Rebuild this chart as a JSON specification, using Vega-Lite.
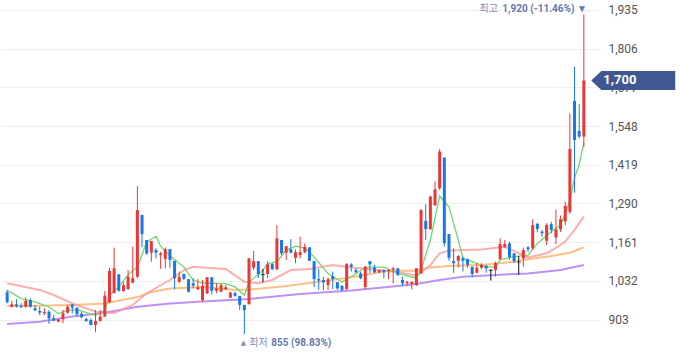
{
"$schema": "https://vega.github.io/schema/vega-lite/v6.json",
"width": 600, "height": 358,
"autosize": {"type": "none"},
"padding": {"left": 0, "top": 0, "right": 80, "bottom": 0},
"background": "white",
"config": {"view": {"stroke": null}, "font": "Noto Sans CJK KR"},
"datasets": {
"candles": [
{"i":1,"o":994,"h":1002,"l":957,"c":961},{"i":2,"o":946,"h":966,"l":943,"c":954},{"i":3,"o":954,"h":971,"l":943,"c":948},{"i":4,"o":949,"h":957,"l":943,"c":944},{"i":5,"o":946,"h":977,"l":943,"c":965},{"i":6,"o":968,"h":974,"l":943,"c":946},{"i":7,"o":941,"h":952,"l":933,"c":933},{"i":8,"o":932,"h":946,"l":918,"c":926},{"i":9,"o":924,"h":941,"l":918,"c":929},{"i":10,"o":929,"h":935,"l":888,"c":907},
{"i":11,"o":907,"h":918,"l":899,"c":899},{"i":12,"o":896,"h":904,"l":894,"c":904},{"i":13,"o":904,"h":935,"l":891,"c":924},{"i":14,"o":926,"h":952,"l":922,"c":946},{"i":15,"o":954,"h":954,"l":924,"c":943},{"i":16,"o":943,"h":943,"l":913,"c":921},{"i":17,"o":922,"h":929,"l":907,"c":911},{"i":18,"o":905,"h":909,"l":896,"c":898},{"i":19,"o":902,"h":907,"l":884,"c":885},{"i":20,"o":885,"h":935,"l":861,"c":898},
{"i":21,"o":899,"h":935,"l":896,"c":913},{"i":22,"o":913,"h":998,"l":913,"c":983},{"i":23,"o":961,"h":1076,"l":959,"c":1065},{"i":24,"o":991,"h":1143,"l":991,"c":1074},{"i":25,"o":1054,"h":1054,"l":996,"c":999},{"i":26,"o":998,"h":1029,"l":996,"c":1018},{"i":27,"o":1005,"h":1068,"l":1002,"c":1046},{"i":28,"o":1026,"h":1146,"l":1024,"c":1041},{"i":29,"o":1046,"h":1348,"l":1041,"c":1268},{"i":30,"o":1252,"h":1252,"l":1144,"c":1188},
{"i":31,"o":1168,"h":1168,"l":1118,"c":1124},{"i":32,"o":1126,"h":1165,"l":1096,"c":1165},{"i":33,"o":1135,"h":1141,"l":1107,"c":1126},{"i":34,"o":1118,"h":1129,"l":1072,"c":1124},{"i":35,"o":1105,"h":1143,"l":1074,"c":1138},{"i":36,"o":1138,"h":1138,"l":1076,"c":1102},{"i":37,"o":1099,"h":1099,"l":1004,"c":1041},{"i":38,"o":1029,"h":1063,"l":1024,"c":1046},{"i":39,"o":1055,"h":1057,"l":1035,"c":1039},{"i":40,"o":1038,"h":1038,"l":993,"c":996},
{"i":41,"o":1024,"h":1041,"l":1007,"c":1016},{"i":42,"o":1004,"h":1038,"l":1002,"c":1011},{"i":43,"o":968,"h":1035,"l":961,"c":1015},{"i":44,"o":991,"h":1044,"l":988,"c":1044},{"i":45,"o":1044,"h":1044,"l":987,"c":999},{"i":46,"o":999,"h":1024,"l":991,"c":1007},{"i":47,"o":996,"h":1024,"l":994,"c":1018},{"i":48,"o":1004,"h":1018,"l":1002,"c":1011},{"i":49,"o":976,"h":996,"l":974,"c":993},{"i":50,"o":991,"h":996,"l":979,"c":982},
{"i":51,"o":982,"h":982,"l":935,"c":952},{"i":52,"o":952,"h":952,"l":855,"c":935},{"i":53,"o":955,"h":1109,"l":952,"c":1107},{"i":54,"o":1076,"h":1132,"l":1068,"c":1098},{"i":55,"o":1098,"h":1098,"l":1041,"c":1055},{"i":56,"o":1053,"h":1072,"l":1027,"c":1053},{"i":57,"o":1055,"h":1098,"l":1041,"c":1087},{"i":58,"o":1088,"h":1091,"l":1068,"c":1071},{"i":59,"o":1071,"h":1218,"l":1068,"c":1174},{"i":60,"o":1168,"h":1168,"l":1118,"c":1124},
{"i":61,"o":1126,"h":1148,"l":1102,"c":1148},{"i":62,"o":1137,"h":1171,"l":1124,"c":1126},{"i":63,"o":1109,"h":1137,"l":1091,"c":1128},{"i":64,"o":1118,"h":1179,"l":1107,"c":1128},{"i":65,"o":1127,"h":1157,"l":1124,"c":1146},{"i":66,"o":1144,"h":1144,"l":1099,"c":1099},{"i":67,"o":1098,"h":1098,"l":1011,"c":1038},{"i":68,"o":1038,"h":1072,"l":1002,"c":1033},{"i":69,"o":1035,"h":1046,"l":1002,"c":1027},{"i":70,"o":1018,"h":1044,"l":1002,"c":1037},
{"i":71,"o":1048,"h":1063,"l":1005,"c":1038},{"i":72,"o":1028,"h":1028,"l":1002,"c":1007},{"i":73,"o":1015,"h":1018,"l":999,"c":1002},{"i":74,"o":1005,"h":1091,"l":1002,"c":1088},{"i":75,"o":1087,"h":1091,"l":1063,"c":1079},{"i":76,"o":1068,"h":1074,"l":1057,"c":1061},{"i":77,"o":1057,"h":1063,"l":1038,"c":1041},{"i":78,"o":1011,"h":1082,"l":1005,"c":1079},{"i":79,"o":1098,"h":1098,"l":1059,"c":1087},{"i":80,"o":1076,"h":1085,"l":1057,"c":1061},
{"i":81,"o":1061,"h":1068,"l":1057,"c":1068},{"i":82,"o":1068,"h":1070,"l":1041,"c":1061},{"i":83,"o":1065,"h":1071,"l":1038,"c":1068},{"i":84,"o":1069,"h":1079,"l":1024,"c":1074},{"i":85,"o":1074,"h":1074,"l":1048,"c":1052},{"i":86,"o":1035,"h":1046,"l":1015,"c":1024},{"i":87,"o":1024,"h":1032,"l":1015,"c":1029},{"i":88,"o":1022,"h":1029,"l":1004,"c":1029},{"i":89,"o":1018,"h":1074,"l":1015,"c":1074},{"i":90,"o":1057,"h":1272,"l":1055,"c":1268},
{"i":91,"o":1232,"h":1288,"l":1168,"c":1205},{"i":92,"o":1205,"h":1316,"l":1202,"c":1313},{"i":93,"o":1284,"h":1363,"l":1282,"c":1337},{"i":94,"o":1341,"h":1472,"l":1335,"c":1463},{"i":95,"o":1443,"h":1443,"l":1146,"c":1157},{"i":96,"o":1188,"h":1188,"l":1099,"c":1109},{"i":97,"o":1098,"h":1141,"l":1059,"c":1091},{"i":98,"o":1099,"h":1118,"l":1077,"c":1115},{"i":99,"o":1107,"h":1113,"l":1063,"c":1099},{"i":100,"o":1104,"h":1107,"l":1076,"c":1085},
{"i":101,"o":1079,"h":1079,"l":1044,"c":1055},{"i":102,"o":1059,"h":1091,"l":1057,"c":1076},{"i":103,"o":1076,"h":1091,"l":1071,"c":1085},{"i":104,"o":1083,"h":1083,"l":1059,"c":1074},{"i":105,"o":1067,"h":1071,"l":1033,"c":1067},{"i":106,"o":1068,"h":1096,"l":1046,"c":1091},{"i":107,"o":1105,"h":1174,"l":1102,"c":1155},{"i":108,"o":1146,"h":1168,"l":1141,"c":1155},{"i":109,"o":1157,"h":1163,"l":1102,"c":1111},{"i":110,"o":1124,"h":1124,"l":1091,"c":1098},
{"i":111,"o":1095,"h":1115,"l":1052,"c":1095},{"i":112,"o":1107,"h":1143,"l":1079,"c":1135},{"i":113,"o":1144,"h":1148,"l":1129,"c":1137},{"i":114,"o":1141,"h":1237,"l":1135,"c":1218},{"i":115,"o":1222,"h":1226,"l":1194,"c":1205},{"i":116,"o":1196,"h":1202,"l":1179,"c":1191},{"i":117,"o":1166,"h":1224,"l":1152,"c":1218},{"i":118,"o":1221,"h":1229,"l":1191,"c":1202},{"i":119,"o":1177,"h":1270,"l":1155,"c":1204},{"i":120,"o":1204,"h":1250,"l":1195,"c":1238},
{"i":121,"o":1230,"h":1296,"l":1218,"c":1282},{"i":122,"o":1262,"h":1590,"l":1255,"c":1472},{"i":123,"o":1632,"h":1746,"l":1326,"c":1502},{"i":124,"o":1532,"h":1621,"l":1507,"c":1513},{"i":125,"o":1513,"h":1920,"l":1479,"c":1700}
],
"ma5": [
{"i":1,"v":1001},{"i":4,"v":973},{"i":7,"v":962},{"i":10,"v":945},{"i":12,"v":923},{"i":14,"v":934},{"i":16,"v":936},{"i":18,"v":926},{"i":20,"v":917},{"i":22,"v":934},{"i":23,"v":984},{"i":25,"v":1012},{"i":27,"v":1053},{"i":29,"v":1078},{"i":31,"v":1162},{"i":33,"v":1181},{"i":34,"v":1147},{"i":36,"v":1117},{"i":39,"v":1078},{"i":41,"v":1034},{"i":43,"v":1025},{"i":48,"v":1023},{"i":50,"v":1012},{"i":52,"v":984},{"i":53,"v":1028},{"i":56,"v":1067},{"i":57,"v":1089},{"i":59,"v":1095},{"i":61,"v":1134},{"i":63,"v":1148},{"i":65,"v":1142},{"i":67,"v":1112},{"i":70,"v":1056},{"i":73,"v":1028},{"i":76,"v":1056},{"i":78,"v":1078},{"i":82,"v":1078},{"i":85,"v":1057},{"i":89,"v":1041},{"i":90,"v":1068},{"i":92,"v":1168},{"i":94,"v":1315},{"i":96,"v":1279},{"i":98,"v":1168},{"i":99,"v":1107},{"i":101,"v":1096},{"i":104,"v":1079},{"i":106,"v":1079},{"i":107,"v":1102},{"i":110,"v":1113},{"i":113,"v":1118},{"i":115,"v":1157},{"i":118,"v":1196},{"i":120,"v":1218},{"i":121,"v":1255},{"i":122,"v":1300},{"i":123,"v":1375},{"i":124,"v":1420},{"i":125,"v":1492}
],
"ma20": [
{"i":1,"v":1024},{"i":8,"v":1002},{"i":11,"v":985},{"i":15,"v":957},{"i":20,"v":929},{"i":22,"v":926},{"i":24,"v":925},{"i":28,"v":952},{"i":31,"v":991},{"i":36,"v":1035},{"i":39,"v":1068},{"i":41,"v":1079},{"i":43,"v":1077},{"i":48,"v":1072},{"i":52,"v":1029},{"i":55,"v":1024},{"i":58,"v":1035},{"i":62,"v":1068},{"i":66,"v":1072},{"i":71,"v":1085},{"i":75,"v":1077},{"i":81,"v":1068},{"i":85,"v":1062},{"i":89,"v":1049},{"i":92,"v":1085},{"i":94,"v":1124},{"i":96,"v":1133},{"i":103,"v":1137},{"i":108,"v":1146},{"i":113,"v":1110},{"i":117,"v":1124},{"i":118,"v":1133},{"i":120,"v":1152},{"i":121,"v":1163},{"i":123,"v":1202},{"i":125,"v":1246}
],
"ma60": [
{"i":1,"v":948},{"i":8,"v":949},{"i":15,"v":952},{"i":22,"v":957},{"i":29,"v":978},{"i":32,"v":995},{"i":36,"v":1007},{"i":43,"v":1012},{"i":50,"v":1002},{"i":53,"v":1003},{"i":60,"v":1013},{"i":67,"v":1027},{"i":75,"v":1044},{"i":82,"v":1063},{"i":85,"v":1066},{"i":89,"v":1066},{"i":92,"v":1077},{"i":96,"v":1082},{"i":103,"v":1085},{"i":110,"v":1096},{"i":113,"v":1104},{"i":118,"v":1115},{"i":122,"v":1126},{"i":125,"v":1144}
],
"ma120": [
{"i":1,"v":888},{"i":8,"v":896},{"i":15,"v":913},{"i":22,"v":926},{"i":29,"v":946},{"i":36,"v":957},{"i":43,"v":963},{"i":53,"v":972},{"i":64,"v":988},{"i":75,"v":1000},{"i":85,"v":1015},{"i":89,"v":1022},{"i":94,"v":1035},{"i":99,"v":1046},{"i":106,"v":1052},{"i":113,"v":1057},{"i":120,"v":1068},{"i":125,"v":1085}
]
},
"layer": [
{"data": {"name": "ma120"},
 "mark": {"type": "line", "color": "#b27ef2", "strokeWidth": 2, "opacity": 0.85},
 "encoding": {
  "x": {"field": "i", "type": "quantitative", "scale": {"domain": [0.535, 127.4], "nice": false, "zero": false}, "axis": null},
  "y": {"field": "v", "type": "quantitative", "scale": {"domain": [775, 1968.33], "nice": false, "zero": false},
        "axis": {"orient": "right", "values": [903,1032,1161,1290,1419,1548,1677,1806,1935], "format": ",.0f", "title": null, "grid": true, "gridColor": "#eeeeee", "domain": false, "ticks": false, "labelPadding": 8, "labelFont": "Roboto", "labelFontSize": 12, "labelColor": "#555555"}}
 }},
{"data": {"name": "ma60"},
 "mark": {"type": "line", "color": "#ffb470", "strokeWidth": 2, "opacity": 0.85},
 "encoding": {"x": {"field": "i", "type": "quantitative"}, "y": {"field": "v", "type": "quantitative"}}},
{"data": {"name": "ma20"},
 "mark": {"type": "line", "color": "#ff9a9a", "strokeWidth": 2, "opacity": 0.8},
 "encoding": {"x": {"field": "i", "type": "quantitative"}, "y": {"field": "v", "type": "quantitative"}}},
{"data": {"name": "ma5"},
 "mark": {"type": "line", "color": "#6fd86f", "strokeWidth": 1.3},
 "encoding": {"x": {"field": "i", "type": "quantitative"}, "y": {"field": "v", "type": "quantitative"}}},
{"data": {"name": "candles"},
 "mark": {"type": "rule", "strokeWidth": 1},
 "encoding": {"x": {"field": "i", "type": "quantitative"}, "y": {"field": "l", "type": "quantitative"}, "y2": {"field": "h"},
   "color": {"condition": [{"test": "datum.c > datum.o", "value": "#ee3535"}, {"test": "datum.c < datum.o", "value": "#1877e6"}], "value": "#111111"}}},
{"data": {"name": "candles"},
 "mark": {"type": "bar", "width": 3},
 "encoding": {"x": {"field": "i", "type": "quantitative"}, "y": {"field": "o", "type": "quantitative"}, "y2": {"field": "c"},
   "color": {"condition": [{"test": "datum.c > datum.o", "value": "#ee3535"}, {"test": "datum.c < datum.o", "value": "#1877e6"}], "value": "#111111"}}},
{"data": {"name": "candles"},
 "transform": [{"filter": "datum.o == datum.c"}],
 "mark": {"type": "tick", "orient": "horizontal", "size": 4, "thickness": 1, "color": "#111111"},
 "encoding": {"x": {"field": "i", "type": "quantitative"}, "y": {"field": "o", "type": "quantitative"}}},
{"data": {"values": [{"i": 125, "v": 1920, "t": "1,920 (-11.46%) ▼"}]},
 "mark": {"type": "text", "align": "right", "baseline": "middle", "dx": 3, "dy": -5, "fontSize": 10, "font": "Roboto", "fontWeight": "bold", "color": "#6678b0"},
 "encoding": {"x": {"field": "i", "type": "quantitative"}, "y": {"field": "v", "type": "quantitative"}, "text": {"field": "t"}}},
{"data": {"values": [{"i": 125, "v": 1920, "t": "최고"}]},
 "mark": {"type": "text", "align": "right", "baseline": "middle", "dx": -86, "dy": -5, "fontSize": 10, "color": "#7f8dba"},
 "encoding": {"x": {"field": "i", "type": "quantitative"}, "y": {"field": "v", "type": "quantitative"}, "text": {"field": "t"}}},
{"data": {"values": [{"i": 52, "v": 855, "t": "▲"}]},
 "mark": {"type": "text", "align": "center", "baseline": "middle", "dx": -1, "dy": 9, "fontSize": 7, "font": "DejaVu Sans", "color": "#7f8dba"},
 "encoding": {"x": {"field": "i", "type": "quantitative"}, "y": {"field": "v", "type": "quantitative"}, "text": {"field": "t"}}},
{"data": {"values": [{"i": 52, "v": 855, "t": "최저"}]},
 "mark": {"type": "text", "align": "left", "baseline": "middle", "dx": 5, "dy": 9, "fontSize": 10, "color": "#7f8dba"},
 "encoding": {"x": {"field": "i", "type": "quantitative"}, "y": {"field": "v", "type": "quantitative"}, "text": {"field": "t"}}},
{"data": {"values": [{"i": 52, "v": 855, "t": "855 (98.83%)"}]},
 "mark": {"type": "text", "align": "left", "baseline": "middle", "dx": 27, "dy": 9, "fontSize": 10, "font": "Roboto", "fontWeight": "bold", "color": "#6678b0"},
 "encoding": {"x": {"field": "i", "type": "quantitative"}, "y": {"field": "v", "type": "quantitative"}, "text": {"field": "t"}}},
{"data": {"values": [{"i": 125, "v": 1700, "t": "1,700"}]},
 "mark": {"type": "point", "filled": true, "opacity": 1, "color": "#3f5891", "size": 7056, "xOffset": 49.4, "shape": "M -1 0 L -0.76 -0.226 L 1 -0.226 L 1 0.226 L -0.76 0.226 Z"},
 "encoding": {"x": {"field": "i", "type": "quantitative"}, "y": {"field": "v", "type": "quantitative"}}},
{"data": {"values": [{"i": 125, "v": 1700, "t": "1,700"}]},
 "mark": {"type": "text", "align": "left", "baseline": "middle", "dx": 19.5, "fontSize": 13, "fontWeight": "bold", "font": "Roboto", "color": "white"},
 "encoding": {"x": {"field": "i", "type": "quantitative"}, "y": {"field": "v", "type": "quantitative"}, "text": {"field": "t"}}}
]
}
